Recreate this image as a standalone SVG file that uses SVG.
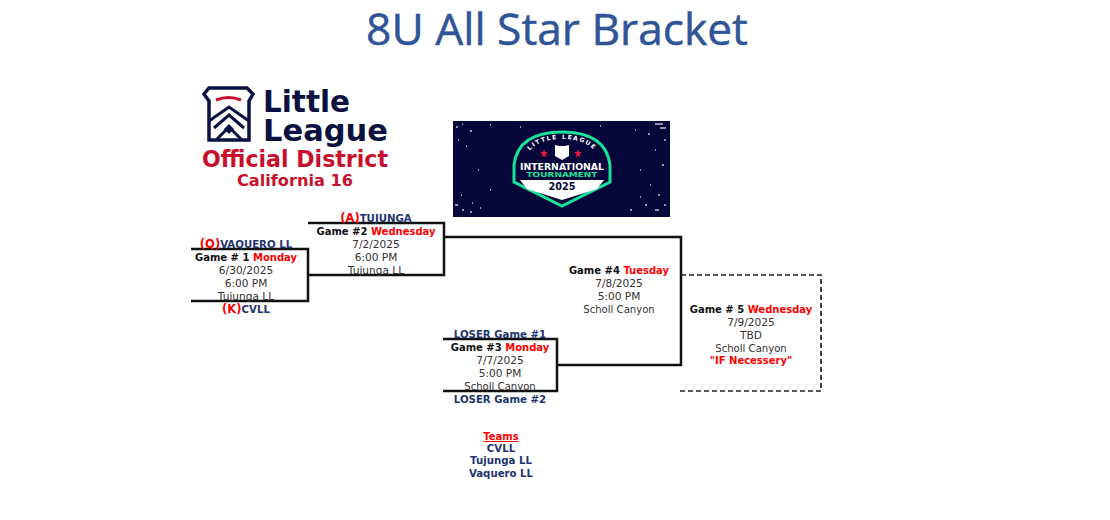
<svg xmlns="http://www.w3.org/2000/svg" width="1110" height="520" viewBox="0 0 1110 520">
<defs><path id="arc" d="M523 163Q530 139 562 139Q594 139 601 163"/></defs>
<style>
text{font-family:"DejaVu Sans",Verdana,sans-serif;font-size:10.6px;text-anchor:middle;fill:#333}
.s{font-size:10.1px}
.b{font-size:10px;font-weight:bold;fill:#111}
.n{font-size:10.2px;font-weight:bold;fill:#1f3470}
.r{font-size:10px;font-weight:bold;fill:#f00}
.p{font-size:11.5px;font-weight:bold;fill:#f00}
.t{font-family:"Open Sans","Noto Sans",sans-serif;font-size:44.3px;fill:#2f5597;stroke:#2f5597;stroke-width:.5}
.l{fill:none;stroke:#111;stroke-width:2.5}
.d{fill:none;stroke:#222;stroke-width:1.7;stroke-dasharray:5 3}
.lg{font-weight:bold;text-anchor:start}
.navy{fill:#0b1240}
.red{fill:#c8102e}
.w{font-weight:bold;fill:#fff}
</style>
<rect width="1110" height="520" fill="#fff"/>
<text id="title" class="t" x="557" y="45">8U All Star Bracket</text>
<g id="logo-district">
<path d="M209 88H247L253 94L249 101V140H209V101L204 94Z" fill="#fff" stroke="#0b1240" stroke-width="3.5" stroke-linejoin="miter"/>
<path d="M216 100Q229 95 241 100" fill="none" stroke="#c8102e" stroke-width="3"/>
<path d="M209 121L229 107L249 121M214 128L229 115L244 128M217 139L229 127L241 139" fill="none" stroke="#0b1240" stroke-width="3"/>
<path d="M229 124L234 129L229 134L224 129Z" fill="#0b1240"/>
<text class="lg navy" x="263" y="112" textLength="87" lengthAdjust="spacingAndGlyphs" style="font-size:31px">Little</text>
<text class="lg navy" x="263" y="141" textLength="125" lengthAdjust="spacingAndGlyphs" style="font-size:31px">League</text>
<text class="lg red" x="202" y="167" textLength="186" lengthAdjust="spacingAndGlyphs" style="font-size:23px">Official District</text>
<text class="lg red" x="237" y="186" textLength="116" lengthAdjust="spacingAndGlyphs" style="font-size:16px">California 16</text>
</g>
<g id="logo-tournament">
<rect x="453" y="121" width="217" height="96" fill="#06063a"/>
<path d="M456 127h2M462 124h1M470 131h2M458 140h1M466 146h1M455 205h3M462 210h2M472 203h1M470 212h2M480 208h1M461 195h1M655 124h8M660 128h6M648 134h2M664 140h2M655 150h1M662 165h2M650 185h1M658 195h2M645 205h2M655 210h4M630 210h2M664 205h2M640 197h1M490 125h1M520 127h1M600 126h1M635 130h1M640 170h1M478 170h1M490 190h1" stroke="#fff" stroke-width="1.6" stroke-opacity=".75" fill="none"/>
<path d="M514 182V165Q518 132 562 132Q606 132 610 165V182L562 206Z" fill="#06063a" stroke="#17e29a" stroke-width="3"/>
<path d="M520 180H604L597 189L562 200L527 189Z" fill="#fff"/>
<path d="M555 145L559 146H565L569 145V156L562 160L555 156Z" fill="#fff"/>
<path d="M544 149l1 3h3l-2.500 2 1 3.500-2.500-2-2.500 2 1-3.500-2.500-2h3zM578 149l1 3h3l-2.500 2 1 3.500-2.500-2-2.500 2 1-3.500-2.500-2h3z" fill="#e8173f"/>
<text class="w" style="font-size:6px;letter-spacing:1.5px"><textPath href="#arc" startOffset="50%">LITTLE LEAGUE</textPath></text>
<text class="w" x="562" y="169.500" textLength="84" lengthAdjust="spacingAndGlyphs" style="font-size:9.500px">INTERNATIONAL</text>
<text x="562" y="177" textLength="71" lengthAdjust="spacingAndGlyphs" style="font-size:7px;font-weight:bold;fill:#17e29a">TOURNAMENT</text>
<text x="562" y="189.500" textLength="27" lengthAdjust="spacingAndGlyphs" style="font-size:10px;font-weight:bold;fill:#06063a">2025</text>
</g>
<g id="connectors">
<path class="l" d="M191 249H308V301H191"/>
<path class="l" d="M308 223H444V275H308"/>
<path class="l" d="M443 339H557V391H443"/>
<path class="l" d="M444 237H681V365H557"/>
<path class="d" d="M681 275H821V391H680"/>
</g>
<g id="game1">
<text class="n" x="246" y="248"><tspan class="p">(Q)</tspan>VAQUERO LL</text>
<text class="b" x="246" y="261">Game # 1 <tspan class="r">Monday</tspan></text>
<text x="246" y="274">6/30/2025</text>
<text x="246" y="287">6:00 PM</text>
<text x="246" y="300">Tujunga LL</text>
<text class="n" x="246" y="313"><tspan class="p">(K)</tspan>CVLL</text>
</g>
<g id="game2">
<text class="n" x="376" y="222"><tspan class="p">(A)</tspan>TUJUNGA</text>
<text class="b" x="376" y="235">Game #2 <tspan class="r">Wednesday</tspan></text>
<text x="376" y="248">7/2/2025</text>
<text x="376" y="261">6:00 PM</text>
<text x="376" y="274">Tujunga LL</text>
</g>
<g id="game3">
<text class="n" x="500" y="338">LOSER Game #1</text>
<text class="b" x="500" y="351">Game #3 <tspan class="r">Monday</tspan></text>
<text x="500" y="364">7/7/2025</text>
<text x="500" y="377">5:00 PM</text>
<text class="s" x="500" y="390">Scholl Canyon</text>
<text class="n" x="500" y="403">LOSER Game #2</text>
</g>
<g id="game4">
<text class="b" x="619" y="274">Game #4 <tspan class="r">Tuesday</tspan></text>
<text x="619" y="287">7/8/2025</text>
<text x="619" y="300">5:00 PM</text>
<text class="s" x="619" y="313">Scholl Canyon</text>
</g>
<g id="game5">
<text class="b" x="751" y="313">Game # 5 <tspan class="r">Wednesday</tspan></text>
<text x="751" y="326">7/9/2025</text>
<text x="751" y="339">TBD</text>
<text class="s" x="751" y="352">Scholl Canyon</text>
<text class="r" x="751" y="364">"IF Necessery"</text>
</g>
<g id="teams">
<text class="r" x="501" y="440" text-decoration="underline">Teams</text>
<text class="n" x="501" y="452">CVLL</text>
<text class="n" x="501" y="464">Tujunga LL</text>
<text class="n" x="501" y="477">Vaquero LL</text>
</g>
</svg>
